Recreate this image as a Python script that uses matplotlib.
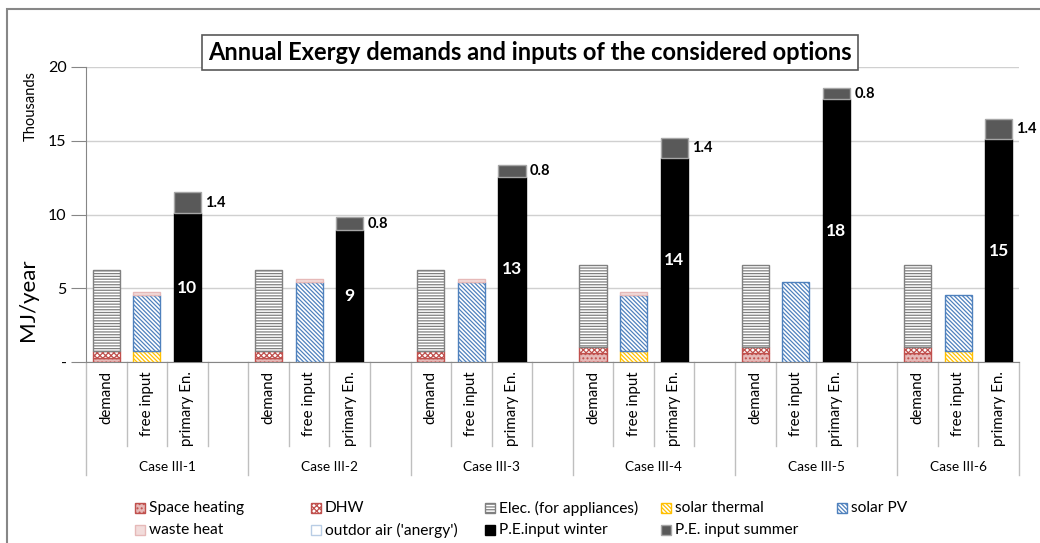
import numpy as np
import matplotlib
matplotlib.use("Agg")
import matplotlib.pyplot as plt
import matplotlib.transforms as mtransforms
from matplotlib.patches import Rectangle

plt.rcParams['font.family'] = ['Lato', 'DejaVu Sans']
plt.rcParams['hatch.linewidth'] = 0.9

# values in thousands of MJ/year
cases = ['Case III-1', 'Case III-2', 'Case III-3', 'Case III-4', 'Case III-5', 'Case III-6']
sub_labels = ['demand', 'free input', 'primary En.']

space_heating = [0.30, 0.30, 0.30, 0.60, 0.60, 0.60]
dhw = [0.47, 0.47, 0.47, 0.44, 0.44, 0.44]
elec = [5.50, 5.50, 5.50, 5.56, 5.56, 5.56]
solar_thermal = [0.72, 0.0, 0.0, 0.72, 0.0, 0.72]
solar_pv = [3.80, 5.44, 5.44, 3.80, 5.44, 3.80]
waste_heat = [0.25, 0.21, 0.21, 0.25, 0.0, 0.0]
outdoor_air = [0.0, 0.0, 0.0, 0.0, 0.0, 0.0]
pe_winter = [10.1, 8.95, 12.55, 13.8, 17.8, 15.1]
pe_summer = [1.4, 0.85, 0.8, 1.4, 0.8, 1.35]

yticks = [0, 5, 10, 15, 20]

diag = '\\' * 8
styles = {
    'Space heating': dict(fc='#e6b9b8', ec='#c0504d', hatch='....'),
    'DHW': dict(fc='white', ec='#c0504d', hatch='xxxxxx'),
    'Elec. (for appliances)': dict(fc='white', ec='#808080', hatch='------'),
    'solar thermal': dict(fc='white', ec='#ffc000', hatch=diag),
    'solar PV': dict(fc='white', ec='#4f81bd', hatch=diag),
    'waste heat': dict(fc='#f2dcdb', ec='#e6b9b8', hatch=None),
    "outdor air ('anergy')": dict(fc='white', ec='#b9cde5', hatch=None),
    'P.E.input winter': dict(fc='black', ec='black', hatch=None),
    'P.E. input summer': dict(fc='#595959', ec='#a6a6a6', hatch=None),
}

W, H = 1040, 543
fig = plt.figure(figsize=(W / 100, H / 100), dpi=100)
ax = fig.add_axes([86 / W, 1 - 362 / H, (1019 - 86) / W, 295 / H])

n_groups = len(cases)
x_dem = np.arange(n_groups) * 4
x_free = x_dem + 1
x_pe = x_dem + 2
bw = 0.67

def stack(xpos, series, names):
    bottom = np.zeros(len(xpos))
    conts = []
    for vals, name in zip(series, names):
        st = styles[name]
        vals = np.array(vals)
        lws = [1.0 if v > 0 else 0.0 for v in vals]
        c = ax.bar(xpos, vals, bw, bottom=bottom, color=st['fc'], edgecolor=st['ec'],
                   hatch=st['hatch'], linewidth=lws, zorder=3)
        conts.append(c)
        bottom = bottom + vals
    return conts

stack(x_dem, [space_heating, dhw, elec], ['Space heating', 'DHW', 'Elec. (for appliances)'])
stack(x_free, [solar_thermal, solar_pv, waste_heat, outdoor_air],
      ['solar thermal', 'solar PV', 'waste heat', "outdor air ('anergy')"])
win_c, sum_c = stack(x_pe, [pe_winter, pe_summer], ['P.E.input winter', 'P.E. input summer'])

ax.bar_label(win_c, labels=[f'{v:.0f}' for v in pe_winter], label_type='center',
             color='white', fontweight='bold', fontsize=12.5)
for xp, w, s in zip(x_pe, pe_winter, pe_summer):
    ax.annotate(f'{s:.1f}', (xp + bw / 2, w + s / 2), xytext=(3, 0), textcoords='offset points',
                ha='left', va='center', fontsize=10.5, fontweight='bold')

ax.set_xlim(-0.5, 4 * (n_groups - 1) + 2.5)
ax.set_ylim(0, 20)
ax.set_yticks(yticks)
ax.set_yticklabels(['-' if v == 0 else str(v) for v in yticks], fontsize=11.5)
ax.tick_params(axis='y', length=11, color='#868686', pad=3)
ax.set_xticks([])
ax.grid(axis='y', color='#d0d0d0', linewidth=1.0, zorder=0)
ax.set_axisbelow(True)
for s in ['top', 'right']:
    ax.spines[s].set_visible(False)
ax.spines['left'].set_color('#868686')
ax.spines['bottom'].set_color('#868686')

# category axis: sub labels, separators, group labels
trans = mtransforms.blended_transform_factory(ax.transData, ax.transAxes)
y_sub = -(371 - 362) / 295
y_short = -(446 - 362) / 295
y_long = -(475 - 362) / 295
y_grp = -(467 - 362) / 295
for g, case in enumerate(cases):
    base = 4 * g
    for k, lab in enumerate(sub_labels):
        ax.text(base + k, y_sub, lab, transform=trans, rotation=90, ha='center', va='top',
                fontsize=10.8)
    n_slots = 4 if g < n_groups - 1 else 3
    for k in range(1, n_slots):
        ax.plot([base + k - 0.5] * 2, [0, y_short], transform=trans, clip_on=False,
                color='#bfbfbf', lw=1.0)
    ax.plot([base - 0.5] * 2, [0, y_long], transform=trans, clip_on=False, color='#bfbfbf', lw=1.0)
    ax.text(base + (n_slots - 1) / 2, y_grp, case, transform=trans, ha='center', va='center',
            fontsize=9.8)
ax.plot([4 * (n_groups - 1) + 2.5] * 2, [0, y_long], transform=trans, clip_on=False,
        color='#bfbfbf', lw=1.0)

fig.text(28 / W, 1 - 300 / H, 'MJ/year', rotation=90, ha='center', va='center', fontsize=16)
fig.text(31 / W, 1 - 106 / H, 'Thousands', rotation=90, ha='center', va='center', fontsize=10.5)

fig.text(530 / W, 1 - 52.5 / H, 'Annual Exergy demands and inputs of the considered options',
         ha='center', va='center', fontsize=17, fontweight='bold',
         bbox=dict(boxstyle='square,pad=0.25', fc='white', ec='#595959', lw=1.2), zorder=5)

# legend, laid out row by row like the original
names = list(styles.keys())
col_x = [135, 311, 485, 661, 837]
row_y = [508, 530]
for i, name in enumerate(names):
    r, c = divmod(i, 5)
    st = styles[name]
    x0, y0 = col_x[c], row_y[r]
    fig.add_artist(Rectangle((x0 / W, 1 - (y0 + 5) / H), 10 / W, 10 / H, transform=fig.transFigure,
                             fc=st['fc'], ec=st['ec'], hatch=st['hatch'], lw=1.0))
    fig.text((x0 + 14) / W, 1 - y0 / H, name, ha='left', va='center', fontsize=11.2)

fig.add_artist(Rectangle((7 / W, -0.05), 1.2, 1 - 9 / H + 0.05, transform=fig.transFigure,
                         fill=False, ec='#878787', lw=1.5))

fig.savefig('out.png', dpi=100)
